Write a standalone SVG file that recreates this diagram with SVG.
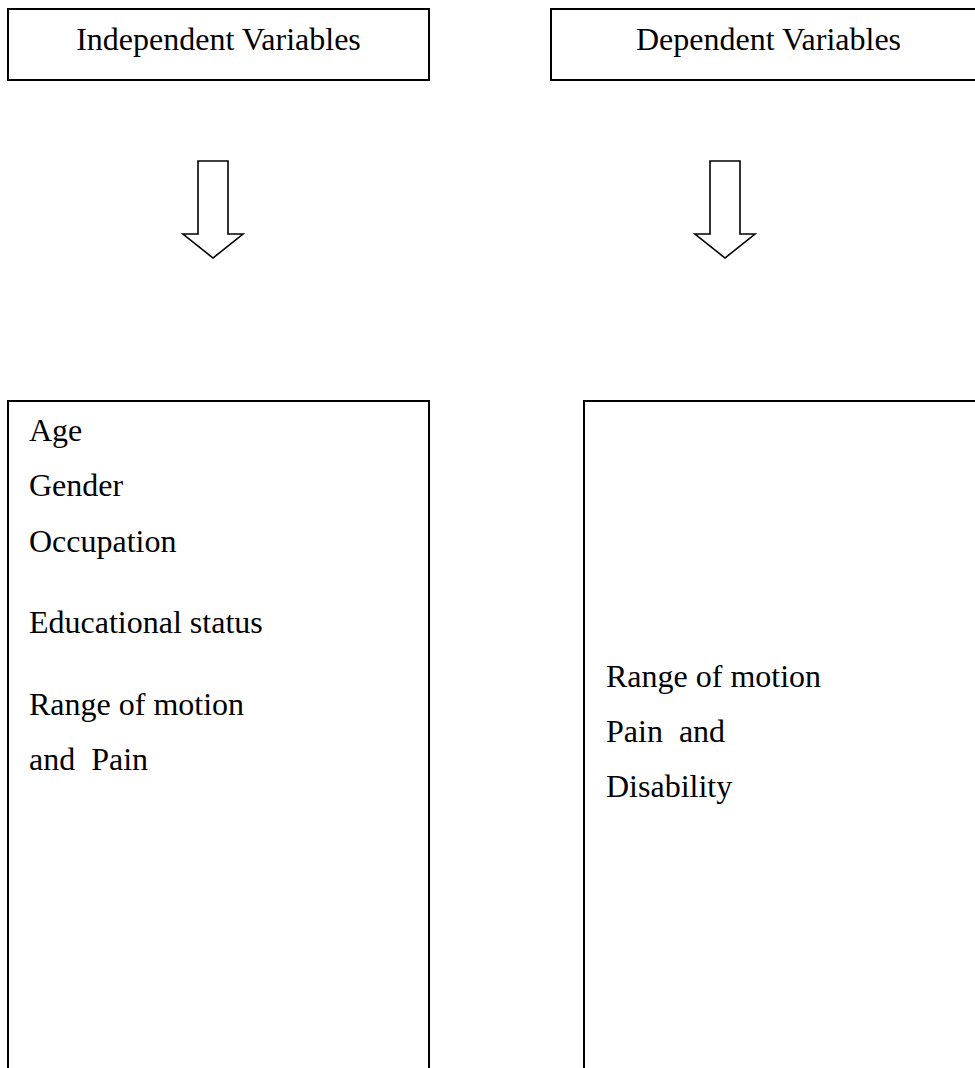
<svg xmlns="http://www.w3.org/2000/svg" width="975" height="1068" viewBox="0 0 975 1068">
<style>
.box{fill:#fff;stroke:#000;stroke-width:2}
.arrow{fill:#fff;stroke:#000;stroke-width:1.6;stroke-linejoin:miter}
text{font-family:"Liberation Serif","Times New Roman",serif;font-size:32px;fill:#000}
.c{text-anchor:middle}
</style>
<rect width="975" height="1068" fill="#fff"/>
<g id="independent-header">
<rect class="box" x="8" y="9" width="421" height="71"/>
<text class="c" x="218.5" y="50">Independent Variables</text>
</g>
<g id="dependent-header">
<rect class="box" x="551" y="9" width="440" height="71"/>
<text class="c" x="768.5" y="50">Dependent Variables</text>
</g>
<g id="connectors">
<polygon class="arrow" points="198,161 228,161 228,234 243,234 213,258 183,234 198,234"/>
<polygon class="arrow" points="710,161 740,161 740,234 755,234 725,258 695,234 710,234"/>
</g>
<g id="independent-list">
<rect class="box" x="8" y="401" width="421" height="700"/>
<text x="29" y="441">Age</text>
<text x="29" y="496">Gender</text>
<text x="29" y="551.5">Occupation</text>
<text x="29" y="633">Educational status</text>
<text x="29" y="715">Range of motion</text>
<text x="29" y="770" xml:space="preserve">and  Pain</text>
</g>
<g id="dependent-list">
<rect class="box" x="584" y="401" width="420" height="700"/>
<text x="606" y="686.5">Range of motion</text>
<text x="606" y="741.5" xml:space="preserve">Pain  and</text>
<text x="606" y="796.5">Disability</text>
</g>
</svg>
